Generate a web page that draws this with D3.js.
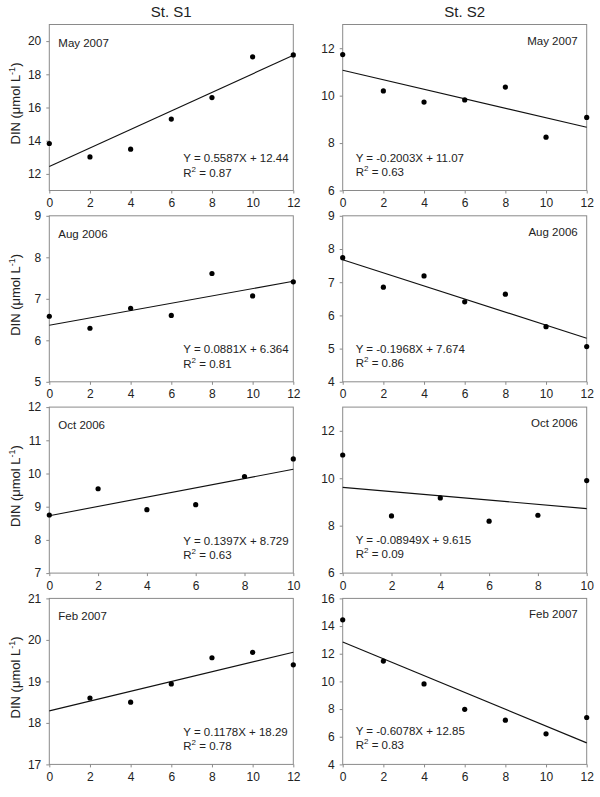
<!DOCTYPE html>
<html>
<head>
<meta charset="utf-8">
<script src="https://cdn.jsdelivr.net/npm/d3@7"></script>
<style>
  body { margin: 0; background: #fff; }
  text { font-family: Arial, "Liberation Sans", sans-serif; fill: #222; }
</style>
</head>
<body>
<div id="chart"></div>
<script>
// sampling times (h)
var times12 = [0, 2, 4, 6, 8, 10, 12];
var times10 = [0, 2, 4, 6, 8, 10];

var stations = ["St. S1", "St. S2"];
var months = ["May 2007", "Aug 2006", "Oct 2006", "Feb 2007"];

// DIN (umol/L), one array per month, per station
var s1May = [13.83, 13.02, 13.49, 15.30, 16.60, 19.05, 19.17];
var s1Aug = [6.58, 6.29, 6.77, 6.60, 7.61, 7.07, 7.41];
var s1Oct = [8.75, 9.54, 8.91, 9.06, 9.91, 10.44];
var s1Feb = [null, 18.60, 18.50, 18.94, 19.57, 19.70, 19.40];

var s2May = [11.73, 10.20, 9.73, 9.82, 10.36, 8.25, 9.08];
var s2Aug = [7.74, 6.85, 7.19, 6.41, 6.64, 5.66, 5.06];
var s2Oct = [10.98, 8.41, 9.17, 8.19, 8.44, 9.90];
var s2Feb = [14.45, 11.47, 9.82, 7.98, 7.20, 6.21, 7.39];

// regression fits
var s1Slope = [0.5587, 0.0881, 0.1397, 0.1178];
var s1Intercept = [12.44, 6.364, 8.729, 18.29];
var s1R2 = ["0.87", "0.81", "0.63", "0.78"];
var s2Slope = [-0.2003, -0.1968, -0.08949, -0.6078];
var s2Intercept = [11.07, 7.674, 9.615, 12.85];
var s2R2 = ["0.63", "0.86", "0.09", "0.83"];

// axis ranges
var s1YDomain = [[11, 21], [5, 9], [7, 12], [17, 21]];
var s1YTicks = [[12, 14, 16, 18, 20], [5, 6, 7, 8, 9], [7, 8, 9, 10, 11, 12], [17, 18, 19, 20, 21]];
var s2YDomain = [[6, 13], [4, 9], [6, 13], [4, 16]];
var s2YTicks = [[6, 8, 10, 12], [4, 5, 6, 7, 8, 9], [6, 8, 10, 12], [4, 6, 8, 10, 12, 14, 16]];
var monthTimes = [times12, times12, times10, times12];

var panels = [];
var s1Values = [s1May, s1Aug, s1Oct, s1Feb];
var s2Values = [s2May, s2Aug, s2Oct, s2Feb];
months.forEach(function (m, i) {
  panels.push({row: i, col: 0, month: m, times: monthTimes[i], values: s1Values[i],
    slope: s1Slope[i], intercept: s1Intercept[i], r2: s1R2[i], yDomain: s1YDomain[i], yTicks: s1YTicks[i]});
  panels.push({row: i, col: 1, month: m, times: monthTimes[i], values: s2Values[i],
    slope: s2Slope[i], intercept: s2Intercept[i], r2: s2R2[i], yDomain: s2YDomain[i], yTicks: s2YTicks[i]});
});

var W = 600, H = 797;
var colLeft = [49.3, 342.7], plotW = 244;
var rowTop = 24.5, rowStep = 191.3, plotH = 166;
var frameColor = "#8a8a8a";

var svg = d3.select("#chart").append("svg")
  .attr("width", W)
  .attr("height", H);

stations.forEach(function (s, c) {
  svg.append("text")
    .attr("x", colLeft[c] + plotW / 2)
    .attr("y", 17)
    .attr("text-anchor", "middle")
    .style("font-size", "15px")
    .text(s);

  // x title, cut by the bottom edge as in the source figure
  svg.append("text")
    .attr("x", colLeft[c] + plotW / 2)
    .attr("y", 806)
    .attr("text-anchor", "middle")
    .style("font-size", "13px")
    .text("Time (h)");
});

panels.forEach(function (p) {
  var top = rowTop + p.row * rowStep;
  var g = svg.append("g")
    .attr("transform", "translate(" + colLeft[p.col] + "," + top + ")");

  var xMax = d3.max(p.times);
  var x = d3.scaleLinear().domain([0, xMax]).range([0, plotW]);
  var y = d3.scaleLinear().domain(p.yDomain).range([plotH, 0]);

  // frame
  g.append("rect")
    .attr("width", plotW)
    .attr("height", plotH)
    .style("fill", "none")
    .style("stroke", frameColor)
    .style("stroke-width", 1);

  var xAxis = g.append("g")
    .attr("transform", "translate(0," + plotH + ")")
    .call(d3.axisBottom(x).tickValues(p.times).tickSize(3).tickPadding(5).tickFormat(d3.format("d")));
  var yAxis = g.append("g")
    .call(d3.axisLeft(y).tickValues(p.yTicks).tickSize(3).tickPadding(5).tickFormat(d3.format("d")));

  [xAxis, yAxis].forEach(function (a) {
    a.select(".domain").remove();
    a.selectAll("line").style("stroke", frameColor);
    a.selectAll("text").style("font-size", "12px").style("fill", "#222")
      .style("font-family", "Arial, 'Liberation Sans', sans-serif");
  });

  // regression line
  g.append("line")
    .attr("x1", x(0))
    .attr("y1", y(p.intercept))
    .attr("x2", x(xMax))
    .attr("y2", y(p.intercept + p.slope * xMax))
    .style("stroke", "#111")
    .style("stroke-width", 1.1);

  var pts = p.times.map(function (t, i) { return {t: t, v: p.values[i]}; })
    .filter(function (d) { return d.v !== null; });

  g.selectAll("circle")
    .data(pts)
    .enter().append("circle")
    .attr("cx", function (d) { return x(d.t); })
    .attr("cy", function (d) { return y(d.v); })
    .attr("r", 2.6)
    .style("fill", "#000");

  // month label
  g.append("text")
    .attr("x", p.col === 0 ? 9 : plotW - 9)
    .attr("y", p.col === 0 ? 22 : 20)
    .attr("text-anchor", p.col === 0 ? "start" : "end")
    .style("font-size", "11.5px")
    .text(p.month);

  // equation
  var ex = p.col === 0 ? 134 : 13;
  var sign = p.slope < 0 ? "-" : "";
  g.append("text")
    .attr("x", ex)
    .attr("y", p.col === 0 ? 137.5 : 137)
    .style("font-size", "11.5px")
    .text("Y = " + sign + Math.abs(p.slope) + "X + " + p.intercept);

  var r = g.append("text")
    .attr("x", ex)
    .attr("y", p.col === 0 ? 152 : 151)
    .style("font-size", "11.5px");
  r.append("tspan").text("R");
  r.append("tspan").attr("dy", -5).style("font-size", "8px").text("2");
  r.append("tspan").attr("dy", 5).text(" = " + p.r2);

  // y label on the left column only
  if (p.col === 0) {
    var lab = svg.append("text")
      .attr("transform", "translate(20," + (top + plotH / 2 - 4) + ") rotate(-90)")
      .attr("text-anchor", "middle")
      .style("font-size", "13px");
    lab.append("tspan").text("DIN (\u03bcmol L");
    lab.append("tspan").attr("dy", -5).style("font-size", "9px").text("-1");
    lab.append("tspan").attr("dy", 5).text(")");
  }
});
</script>
</body>
</html>
